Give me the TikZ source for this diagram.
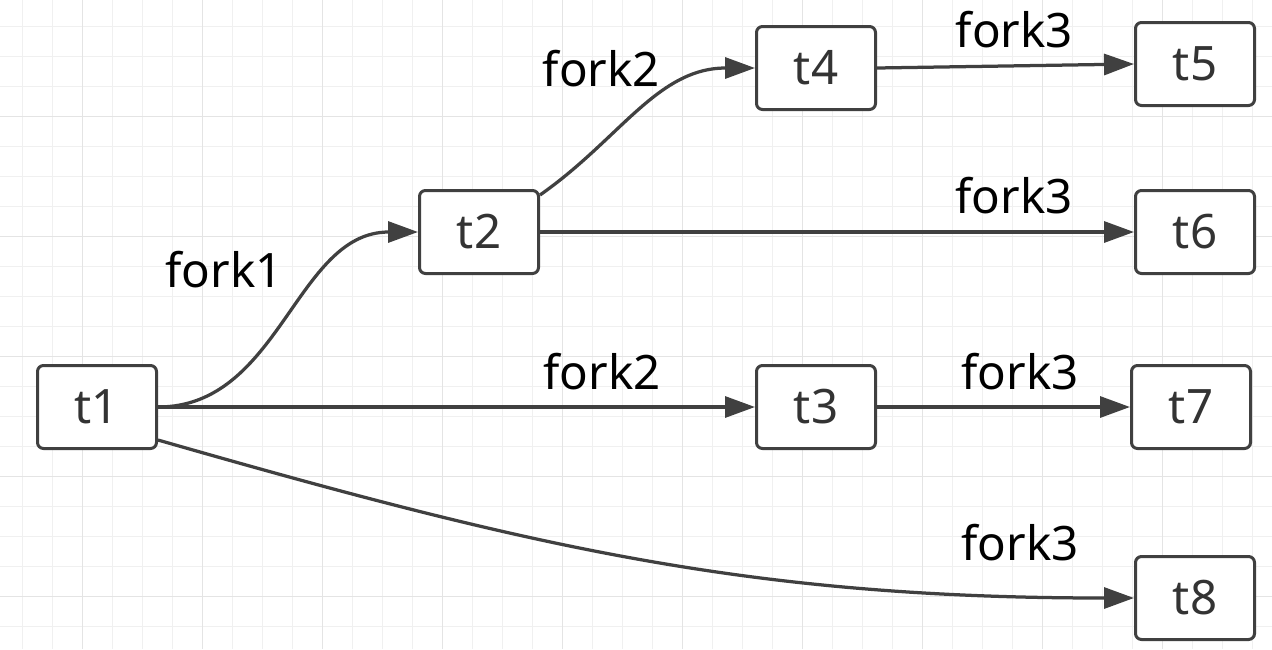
\documentclass[tikz,border=0pt]{standalone}
\usepackage{fontspec}
\setmainfont{Noto Sans}
\usepackage{tikz}
\usetikzlibrary{arrows.meta,positioning,calc}
\definecolor{edge}{RGB}{64,64,64}
\definecolor{gridminor}{RGB}{240,240,240}
\definecolor{gridmajor}{RGB}{228,228,228}
\definecolor{boxtext}{RGB}{51,51,51}

\begin{document}
\begin{tikzpicture}[>={Triangle[length=0.6cm,width=0.42cm]},
  every node/.style={font=\fontsize{27}{32}\selectfont},
  box/.style={draw=edge,line width=0.06cm,rounded corners=0.12cm,fill=white,text=boxtext,minimum width=2.38cm,minimum height=1.66cm},
  link/.style={->,draw=edge,line width=0.065cm}]
  \useasboundingbox (0,0) rectangle (25.44,-12.98);
  % background grid
  \foreach \k in {0,...,41} \draw[gridminor,line width=0.03cm] (0.454+0.6*\k,0) -- (0.454+0.6*\k,-12.98);
  \foreach \k in {0,...,20} \draw[gridminor,line width=0.03cm] (0,-0.534-0.6*\k) -- (25.44,-0.534-0.6*\k);
  \foreach \k in {0,...,9} \draw[gridmajor,line width=0.03cm] (1.654+2.4*\k,0) -- (1.654+2.4*\k,-12.98);
  \foreach \k in {0,...,4} \draw[gridmajor,line width=0.03cm] (0,-2.334-2.4*\k) -- (25.44,-2.334-2.4*\k);
  % tasks
  \node[box] (t1) at (1.94,-8.14) {t1};
  \node[box,right=5.2cm of t1,yshift=3.5cm] (t2) {t2};
  \node[box,right=11.94cm of t1] (t3) {t3};
  \node[box,right=4.3cm of t2,yshift=3.28cm] (t4) {t4};
  \node[box,right=5.14cm of t4,yshift=0.08cm] (t5) {t5};
  \node[box,right=11.88cm of t2] (t6) {t6};
  \node[box,right=5.06cm of t3] (t7) {t7};
  \node[box,right=5.14cm of t3,yshift=-3.82cm] (t8) {t8};
  % forks
  \draw[link] (t1.east) to[out=0,in=180] (t2.west);
  \draw[link] (t1.east) -- (t3.west);
  \draw[link] ([yshift=-0.66cm]t1.east) to[out=-16,in=180] (t8.west);
  \draw[link] ([yshift=0.74cm]t2.east) to[out=35,in=180] (t4.west);
  \draw[link] (t2.east) -- (t6.west);
  \draw[link] (t4.east) -- (t5.west);
  \draw[link] (t3.east) -- (t7.west);
  % labels
  \node (f1) at ($(t2.west)+(-3.88,-0.76)$) {fork1};
  \node (f24) at ($(t4.west)+(-3.07,-0.02)$) {fork2};
  \node (f23) at ($(t3.west)+(-3.06,0.7)$) {fork2};
  \node (f35) at ($(t5.west)+(-2.39,0.68)$) {fork3};
  \node (f36) at ($(t6.west)+(-2.4,0.72)$) {fork3};
  \node (f37) at ($(t7.west)+(-2.2,0.7)$) {fork3};
  \node (f38) at ($(t8.west)+(-2.28,1.1)$) {fork3};
\end{tikzpicture}
\end{document}
